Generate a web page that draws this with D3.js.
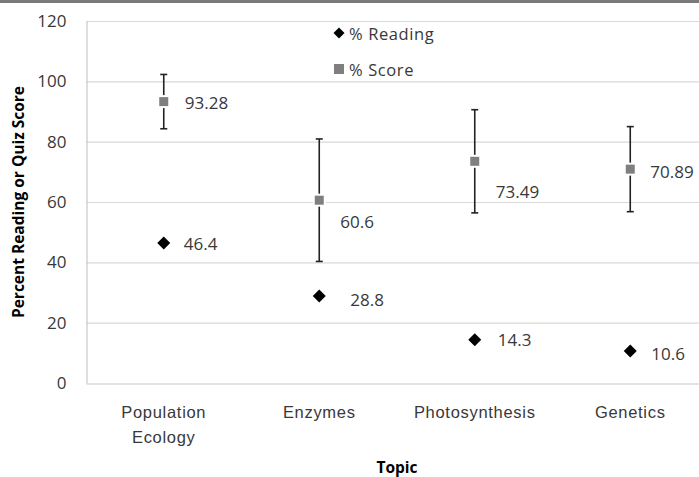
<!DOCTYPE html>
<html>
<head>
<meta charset="utf-8">
<script src="https://cdn.jsdelivr.net/npm/d3@7"></script>
<style>
  html, body { margin: 0; padding: 0; background: #fff; }
  svg { display: block; font-family: "Open Sans", sans-serif; }
</style>
</head>
<body>
<svg id="chart" width="699" height="477"></svg>
<script>
// ---- data ----
const topics = ["Population Ecology", "Enzymes", "Photosynthesis", "Genetics"];
const topicLines = [["Population", "Ecology"], ["Enzymes"], ["Photosynthesis"], ["Genetics"]];
const readingPct = [46.4, 28.8, 14.3, 10.6];
const scorePct = [93.28, 60.6, 73.49, 70.89];
const scoreErr = [9.0, 20.3, 17.1, 14.1];
const yTicks = [0, 20, 40, 60, 80, 100, 120];
const seriesNames = ["% Reading", "% Score"];

// ---- layout (label nudges, px) ----
const readingLabelNudge = [[20, 0], [31, 3], [23, 0], [21, 2]];
const scoreLabelNudge = [[21, 1], [21, 21], [21, 30], [20, 2]];

const W = 699, H = 477;
const m = { left: 86, top: 21, right: 708, bottom: 383 };
const svg = d3.select("#chart");

// top grey strip
svg.append("rect").attr("x", 0).attr("y", 0).attr("width", W).attr("height", 3).attr("fill", "#7a7a7a");

const x = d3.scaleBand().domain(topics).range([m.left, m.right]).padding(0);
const y = d3.scaleLinear().domain([0, 120]).range([m.bottom, m.top]);
const cx = t => x(t) + x.bandwidth() / 2;

// gridlines
svg.append("g").selectAll("line").data(yTicks.filter(d => d > 0)).join("line")
  .attr("x1", m.left).attr("x2", m.right)
  .attr("y1", d => y(d) + 0.5).attr("y2", d => y(d) + 0.5)
  .attr("stroke", "#d9d9d9").attr("stroke-width", 1.2);

// y axis
const yAxis = d3.axisLeft(y).tickValues(yTicks).tickSize(0).tickPadding(20);
const gy = svg.append("g").attr("transform", `translate(${m.left + 0.5},0)`).call(yAxis);
gy.select(".domain").attr("stroke", "#c8c8c8").attr("stroke-width", 1.2);
gy.selectAll("text").attr("font-size", 17).attr("fill", "#383838").attr("font-family", "Open Sans");

// x axis
const xAxis = d3.axisBottom(x).tickSize(0).tickFormat("");
const gx = svg.append("g").attr("transform", `translate(0,${m.bottom + 0.5})`).call(xAxis);
gx.select(".domain").attr("stroke", "#c8c8c8").attr("stroke-width", 1.2);
gx.selectAll(".tick").each(function(d, i) {
  const t = d3.select(this).append("text")
    .attr("text-anchor", "middle").attr("fill", "#383838")
    .attr("font-size", 16.5).attr("letter-spacing", 0.7).attr("y", 34);
  topicLines[i].forEach((ln, j) => {
    t.append("tspan").attr("x", 0).attr("dy", j === 0 ? 0 : 25).text(ln);
  });
});

// error bars
const eb = svg.append("g").attr("stroke", "#222").attr("stroke-width", 1.6);
topics.forEach((t, i) => {
  const x0 = cx(t), hi = y(scorePct[i] + scoreErr[i]), lo = y(scorePct[i] - scoreErr[i]);
  eb.append("line").attr("x1", x0).attr("x2", x0).attr("y1", hi).attr("y2", lo);
  eb.append("line").attr("x1", x0 - 3.5).attr("x2", x0 + 3.5).attr("y1", hi).attr("y2", hi);
  eb.append("line").attr("x1", x0 - 3.5).attr("x2", x0 + 3.5).attr("y1", lo).attr("y2", lo);
});

function diamondPath(s) { return `M0,${-s}L${s},0L0,${s}L${-s},0Z`; }

// score markers
svg.append("g").selectAll("rect").data(topics).join("rect")
  .attr("x", d => cx(d) - 5.5).attr("y", (d, i) => y(scorePct[i]) - 5.5)
  .attr("width", 11).attr("height", 11)
  .attr("fill", "#7f7f7f").attr("stroke", "#fff").attr("stroke-width", 2);

// reading markers
svg.append("g").selectAll("path").data(topics).join("path")
  .attr("d", diamondPath(6.5))
  .attr("transform", (d, i) => `translate(${cx(d)},${y(readingPct[i])})`)
  .attr("fill", "#000");

// data labels
const lab = svg.append("g").attr("font-size", 17).attr("fill", "#383838").attr("dominant-baseline", "central");
topics.forEach((t, i) => {
  lab.append("text").attr("x", cx(t) + scoreLabelNudge[i][0]).attr("y", y(scorePct[i]) + scoreLabelNudge[i][1])
    .text(scorePct[i]);
  lab.append("text").attr("x", cx(t) + readingLabelNudge[i][0]).attr("y", y(readingPct[i]) + readingLabelNudge[i][1])
    .text(readingPct[i]);
});

// legend
const lg = svg.append("g");
lg.append("path").attr("d", diamondPath(5.5)).attr("transform", "translate(339,33)").attr("fill", "#000");
lg.append("rect").attr("x", 334).attr("y", 64).attr("width", 10).attr("height", 10).attr("fill", "#7f7f7f");
lg.selectAll("text").data(seriesNames).join("text")
  .attr("x", 349).attr("y", (d, i) => 33 + i * 36)
  .attr("dominant-baseline", "central").attr("font-size", 16.5).attr("letter-spacing", 0.6).attr("fill", "#383838")
  .text(d => d);

// axis titles
svg.append("text").attr("transform", `translate(18,${(m.top + m.bottom) / 2}) rotate(-90)`)
  .attr("text-anchor", "middle").attr("dominant-baseline", "central")
  .attr("font-size", 15.5).attr("font-weight", "bold").attr("fill", "#000")
  .text("Percent Reading or Quiz Score");
svg.append("text").attr("x", (m.left + m.right) / 2).attr("y", 467)
  .attr("text-anchor", "middle").attr("dominant-baseline", "central")
  .attr("font-size", 15.5).attr("font-weight", "bold").attr("fill", "#000")
  .text("Topic");
</script>
</body>
</html>
